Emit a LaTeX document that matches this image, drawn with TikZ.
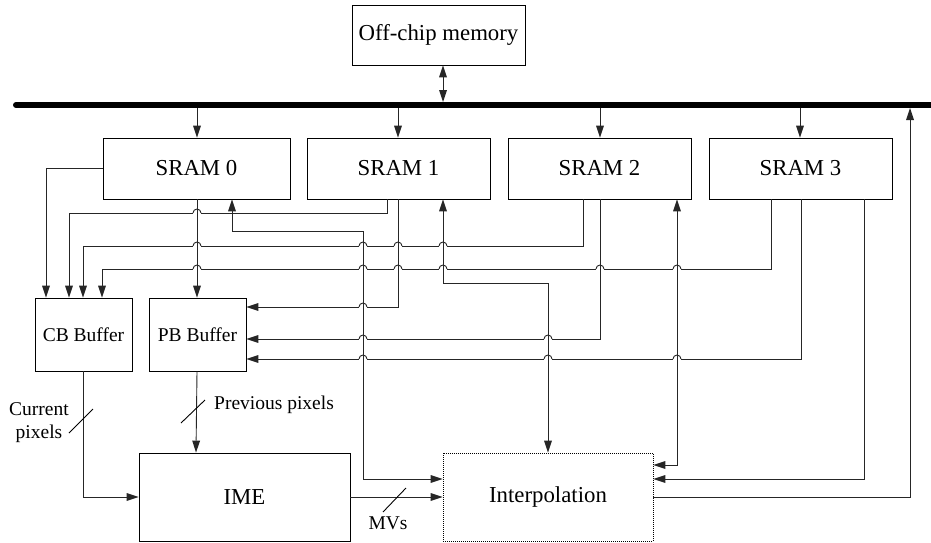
\documentclass[tikz,border=0pt]{standalone}
\usepackage{fontspec}
\setmainfont{Liberation Serif}
\usetikzlibrary{arrows.meta}
\begin{document}
\begin{tikzpicture}[x=1pt,y=-1pt,
  box/.style={draw, line width=0.9pt, inner sep=0pt, font=\fontsize{22.8}{26}\selectfont},
  sbox/.style={draw, line width=0.9pt, inner sep=0pt, font=\fontsize{19.5}{23}\selectfont},
  lbl/.style={inner sep=0pt, font=\fontsize{19.5}{23}\selectfont},
  conn/.style={line width=0.9pt, draw=black!85},
  tip/.tip={Triangle[length=12pt,width=8pt,line width=0pt]},
  arrE/.style={conn, -tip},
  arrB/.style={conn, tip-tip},
  hop/.pic={
    \fill[white] (-4.3,-1.3) rectangle (4.3,1.3);
    \draw[line width=0.9pt, draw=black!85] (-4,0) arc[start angle=180, end angle=0, radius=4pt];
    \draw[line width=0.9pt, draw=black!85] (0,-3) -- (0,3);
  }]
\useasboundingbox (0,0) rectangle (931,543);

% nodes
\node[box, minimum width=173pt, minimum height=60pt] (off) at (438.5,35) {Off-chip memory};
\node[box, minimum width=187pt, minimum height=61pt] (s0) at (196.5,168.5) {SRAM 0};
\node[box, minimum width=183pt, minimum height=61pt] (s1) at (398.5,168.5) {SRAM 1};
\node[box, minimum width=183pt, minimum height=61pt] (s2) at (599.5,168.5) {SRAM 2};
\node[box, minimum width=183pt, minimum height=61pt] (s3) at (800.5,168.5) {SRAM 3};
\node[sbox, minimum width=97pt, minimum height=73pt] (cb) at (83.5,334.5) {CB Buffer};
\node[sbox, minimum width=97pt, minimum height=73pt] (pb) at (197.5,334.5) {PB Buffer};
\node[box, minimum width=211pt, minimum height=88pt] (ime) at (244.5,497) {IME};
\node[box, minimum width=210pt, minimum height=88pt, dash pattern=on 1pt off 1pt] (ip) at (548,497) {Interpolation};

% bus
\coordinate (busL) at (16,105);
\coordinate (busR) at (934,105);
\coordinate (busT) at (0,102);
\coordinate (busB) at (0,108);
\draw[line width=6pt, line cap=round] (busL) -- (busR);

% bus connections
\draw[arrB] (443,0 |- off.south) -- (443,0 |- busT);
\draw[arrE] (197,0 |- busB) -- (197,0 |- s0.north);
\draw[arrE] (398,0 |- busB) -- (398,0 |- s1.north);
\draw[arrE] (600,0 |- busB) -- (600,0 |- s2.north);
\draw[arrE] (800,0 |- busB) -- (800,0 |- s3.north);

% to CB buffer
\draw[arrE] (s0.west) -| (46,0 |- cb.north);
\draw[arrE] (387,0 |- s1.south) -- (387,213) -| (69,0 |- cb.north);
\draw[arrE] (583,0 |- s2.south) -- (583,246) -| (83,0 |- cb.north);
\draw[arrE] (771,0 |- s3.south) -- (771,269) -| (102,0 |- cb.north);

% to PB buffer
\draw[arrE] (197,0 |- s0.south) -- (197,0 |- pb.north);
\draw[arrE] (398,0 |- s1.south) |- (pb.east |- 0,307);
\draw[arrE] (600,0 |- s2.south) |- (pb.east |- 0,339);
\draw[arrE] (801,0 |- s3.south) |- (pb.east |- 0,359);

% SRAM <-> Interpolation
\draw[arrB] (232,0 |- s0.south) -- (232,231) -| (363,479) -- (ip.west |- 0,479);
\draw[arrB] (443,0 |- s1.south) -- (443,283) -| (548,0 |- ip.north);
\draw[arrB] (677,0 |- s2.south) |- (ip.east |- 0,465);
\draw[arrE] (864,0 |- s3.south) |- (ip.east |- 0,479);
\draw[arrE] (ip.east) -| (910,0 |- busB);

% buffers to IME, IME to Interpolation
\draw[arrE] (cb.south) |- (ime.west);
\draw[arrE] (197,0 |- pb.south) -- (196,0 |- ime.north);
\draw[arrE] (ime.east) -- (ip.west);

% hops
\foreach \hx/\hy in {197/213,
  197/246, 363/246, 398/246, 443/246,
  197/269, 363/269, 398/269, 443/269, 600/269, 677/269,
  363/307, 363/339, 548/339, 363/359, 548/359, 677/359}
  \pic at (\hx,\hy) {hop};

% bus-width slashes and labels
\draw[line width=0.9pt] (69,433) -- (93,409);
\draw[line width=0.9pt] (181,423) -- (205,400);
\draw[line width=0.9pt] (383,512) -- (406,488);
\node[lbl, align=center] (lcur) at (39,423) {Current\\pixels};
\node[lbl, anchor=west] (lprev) at (214,405) {Previous pixels};
\node[lbl] (lmv) at (388,523) {MVs};
\end{tikzpicture}
\end{document}
